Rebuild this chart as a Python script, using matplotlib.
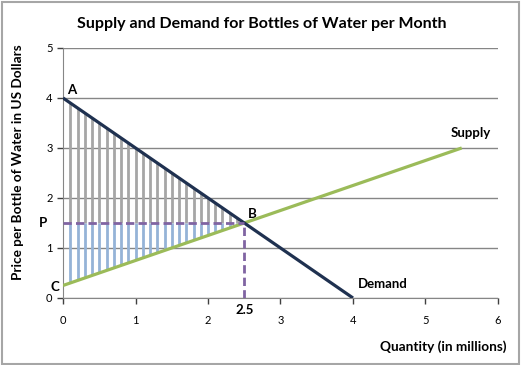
import matplotlib.pyplot as plt
import numpy as np

plt.rcParams['font.family'] = ['Lato', 'DejaVu Sans']

# chart data
demand_x = [0, 4]
demand_y = [4, 0]
supply_x = [0, 5.5]
supply_y = [0.25, 3]
eq_q = 2.5
eq_p = 1.5
hatch_x = [0.1, 0.2, 0.3, 0.4, 0.5, 0.6, 0.7, 0.8, 0.9, 1.0, 1.1, 1.2,
           1.3, 1.4, 1.5, 1.6, 1.7, 1.8, 1.9, 2.0, 2.1, 2.2, 2.3, 2.4]
x_ticks = [0, 1, 2, 3, 4, 5, 6]
y_ticks = [0, 1, 2, 3, 4, 5]

fig = plt.figure(figsize=(5.22, 3.65), dpi=100)
ax = fig.add_axes([0.1207, 0.1836, 0.8333, 0.685])

# consumer surplus (gray) and producer surplus (blue) hatching
hx = np.array(hatch_x)
d_top = np.interp(hx, demand_x, demand_y)
s_bot = np.interp(hx, supply_x, supply_y)
ax.vlines(hx, eq_p, d_top, color='#a6a6a6', lw=2, zorder=2)
ax.vlines(hx, s_bot, eq_p, color='#95b3d7', lw=2, zorder=2)

ax.plot(supply_x, supply_y, color='#9bbb59', lw=2.3, zorder=4, solid_capstyle='butt')
ax.plot(demand_x, demand_y, color='#1f3150', lw=2.3, zorder=4, solid_capstyle='butt')

# equilibrium guides
ax.plot([0, eq_q], [eq_p, eq_p], color='#8064a2', lw=2, ls=(0, (3, 1.5)), zorder=5)
ax.plot([eq_q, eq_q], [0, eq_p], color='#8064a2', lw=2, ls=(0, (3, 1.5)), zorder=5)

ax.set_xlim(0, 6)
ax.set_ylim(0, 5)
ax.set_xticks(x_ticks)
ax.set_yticks(y_ticks)
ax.tick_params(labelsize=8, colors='#404040', length=4, width=1)
ax.tick_params(axis='x', pad=8)
for t in ax.get_xticklabels() + ax.get_yticklabels():
    t.set_color('black')
ax.yaxis.grid(True, color='#868686', lw=1)
ax.set_axisbelow(True)
for s in ['top', 'right']:
    ax.spines[s].set_visible(False)
for s in ['left', 'bottom']:
    ax.spines[s].set_color('#868686')
    ax.spines[s].set_zorder(1)

bold = dict(fontweight='bold', fontsize=9.5)
ax.text(0.05, 4.04, 'A', ha='left', va='bottom', **bold)
ax.text(2.55, 1.55, 'B', ha='left', va='bottom', **bold)
ax.text(-0.05, 0.22, 'C', ha='right', va='center', clip_on=False, **bold)
ax.text(-0.28, eq_p, 'P', ha='center', va='center', clip_on=False, **bold)
ax.text(eq_q, -0.12, '2.5', ha='center', va='top', clip_on=False, **bold)
ax.text(5.63, 3.18, 'Supply', ha='center', va='bottom', **bold)
ax.text(4.07, 0.27, 'Demand', ha='left', va='center', **bold)

fig.text(0.502, 0.935, 'Supply and Demand for Bottles of Water per Month',
         ha='center', va='center', fontweight='bold', fontsize=11.5)
fig.text(0.035, 0.555, 'Price per Bottle of Water in US Dollars', rotation=90,
         ha='center', va='center', fontweight='bold', fontsize=9.8)
fig.text(0.971, 0.05, 'Quantity (in millions)', ha='right', va='center',
         fontweight='bold', fontsize=9.8)

fig.patches.append(plt.Rectangle((0.003, 0.004), 0.992, 0.99, transform=fig.transFigure,
                                 fill=False, edgecolor='#a6a6a6', lw=1.5))

fig.savefig('out.png', dpi=100)
